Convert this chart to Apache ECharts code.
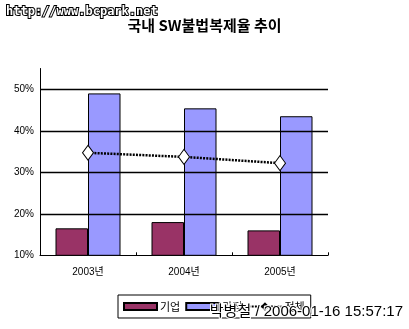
<!DOCTYPE html>
<html>
<head>
<meta charset="utf-8">
<script src="https://cdn.jsdelivr.net/npm/echarts@6/dist/echarts.min.js"></script>
<style>
  html, body { margin: 0; padding: 0; background: #fff; }
  #chart { width: 409px; height: 329px; }
</style>
</head>
<body>
<div id="chart"></div>
<script>
// 국내 SW 불법복제율 (%)
const years = ['2003년', '2004년', '2005년'];
const corporate = [16.5, 18.0, 16.0];   // 기업
const household = [49.0, 45.4, 43.5];   // 가정
const overall = [34.7, 33.7, 32.2];     // 전체
const gridValues = [20, 30, 40, 50];

const FONT = '"Liberation Sans", "Noto Sans CJK KR", sans-serif';
const chart = echarts.init(document.getElementById('chart'), null, { renderer: 'canvas' });

chart.setOption({
  backgroundColor: '#ffffff',
  animation: false,
  title: {
    text: '국내 SW불법복제율 추이',
    left: 'center',
    top: 13,
    textStyle: { fontFamily: '"Noto Sans CJK KR", sans-serif', fontSize: 15, fontWeight: 'bold', color: '#000' }
  },
  graphic: [
    {
      type: 'text', left: 5, top: 5,
      style: {
        text: 'http://www.bcpark.net',
        font: 'bold 12px "DejaVu Sans Mono", monospace',
        fill: '#ffffff', stroke: '#000000', lineWidth: 2
      }
    },
    {
      type: 'text', right: 5, top: 303, z: 100,
      style: {
        text: '박병철 / 2006-01-16 15:57:17',
        font: '15px "Liberation Sans", "Noto Sans CJK KR", sans-serif',
        fill: '#000000', stroke: '#ffffff', lineWidth: 2
      }
    }
  ],
  legend: {
    left: 118, top: 295,
    padding: [6, 6, 6, 5],
    itemGap: 5,
    itemWidth: 33, itemHeight: 7,
    borderColor: '#000', borderWidth: 1,
    textStyle: { fontFamily: '"Noto Sans CJK KR", sans-serif', fontSize: 11, color: '#000', padding: [0, 0, 0, -2] },
    data: [
      { name: '기업', icon: 'rect' },
      { name: '가정', icon: 'rect' },
      { name: '전체' }
    ]
  },
  grid: { left: 40, right: 81, top: 68.5, bottom: 73.7 },
  xAxis: {
    type: 'category',
    data: years,
    boundaryGap: true,
    axisLine: { lineStyle: { color: '#000', width: 1 } },
    axisTick: { show: true, inside: true, length: 3, lineStyle: { color: '#000' } },
    axisLabel: { color: '#000', fontFamily: FONT, fontSize: 10, margin: 12 }
  },
  yAxis: {
    type: 'value',
    min: 10, max: 55, interval: 10,
    axisLine: { show: true, lineStyle: { color: '#000', width: 1 } },
    axisTick: { show: false },
    splitLine: { show: false },
    axisLabel: {
      color: '#000', fontFamily: FONT, fontSize: 10, margin: 6,
      formatter: v => (v % 10 === 0 ? v + '%' : '')
    }
  },
  series: [
    {
      name: '기업', type: 'bar', data: corporate,
      barWidth: 32.5, barGap: '0%',
      itemStyle: { color: '#993366', borderColor: '#000', borderWidth: 1 },
      markLine: {
        silent: true, symbol: 'none', label: { show: false },
        lineStyle: { color: '#000', type: 'solid', width: 1.3 },
        data: gridValues.map(v => ({ yAxis: v }))
      },
      z: 3
    },
    {
      name: '가정', type: 'bar', data: household,
      barWidth: 32.5, barGap: '0%',
      itemStyle: { color: '#9999ff', borderColor: '#000', borderWidth: 1 },
      z: 3
    },
    {
      name: '전체', type: 'line', data: overall,
      symbol: 'diamond', symbolSize: [11, 15],
      itemStyle: { color: '#ffffff', borderColor: '#000', borderWidth: 1 },
      lineStyle: { color: '#000', width: 2.5, type: [2, 1.2] },
      z: 5
    }
  ]
});
</script>
</body>
</html>
